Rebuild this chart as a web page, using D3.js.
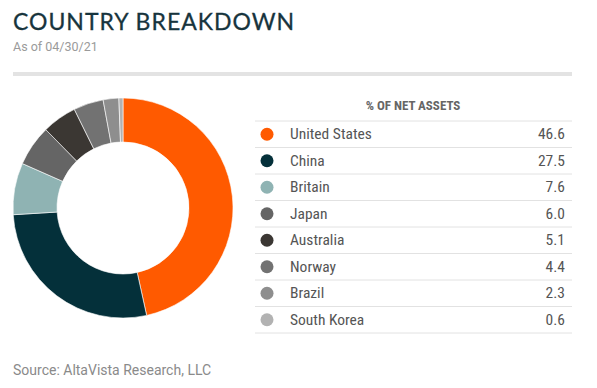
<!DOCTYPE html>
<html>
<head>
<meta charset="utf-8">
<script src="https://cdn.jsdelivr.net/npm/d3@7"></script>
<style>
  body { margin: 0; background: #fff; }
  svg { display: block; }
</style>
</head>
<body>
<svg width="597" height="388"></svg>
<script>
// data
const countries = ["United States", "China", "Britain", "Japan", "Australia", "Norway", "Brazil", "South Korea"];
const values = [46.6, 27.5, 7.6, 6.0, 5.1, 4.4, 2.3, 0.6];
const colors = ["#ff5a00", "#04303a", "#8fb3b3", "#656565", "#3b3733", "#727272", "#8e8e8e", "#b2b2b2"];

const svg = d3.select("svg");

// header
svg.append("text")
  .attr("x", 13).attr("y", 30)
  .attr("font-family", "Lato, 'Open Sans', sans-serif")
  .attr("font-size", 23)
  .attr("letter-spacing", 1.0)
  .attr("fill", "#17343d")
  .attr("stroke", "#17343d").attr("stroke-width", 0.3)
  .text("COUNTRY BREAKDOWN");

svg.append("text")
  .attr("x", 13).attr("y", 51)
  .attr("font-family", "Roboto, sans-serif")
  .attr("font-size", 12.5)
  .attr("fill", "#9a9a9a")
  .text("As of 04/30/21");

svg.append("rect")
  .attr("x", 13).attr("y", 72)
  .attr("width", 559).attr("height", 4)
  .attr("fill", "#e3e3e3");

// donut
const data = countries.map((c, i) => ({ name: c, value: values[i], color: colors[i] }));
const pie = d3.pie().sort(null).value(d => d.value);
const arc = d3.arc().innerRadius(66).outerRadius(110);

const g = svg.append("g").attr("transform", "translate(123,208)");
g.selectAll("path")
  .data(pie(data))
  .join("path")
  .attr("d", arc)
  .attr("fill", d => d.data.color)
  .attr("stroke", "#fff")
  .attr("stroke-width", 0.6);

// legend table
const tableX0 = 255, tableX1 = 572;
const rowH = 26.5;
const y = d3.scaleBand()
  .domain(countries)
  .range([121, 121 + rowH * countries.length])
  .padding(0);

const fontNarrow = "'Liberation Sans Narrow', 'Roboto Condensed', Roboto, sans-serif";

svg.append("text")
  .attr("x", 413).attr("y", 110)
  .attr("text-anchor", "middle")
  .attr("font-family", fontNarrow)
  .attr("font-weight", "bold")
  .attr("font-size", 13)
  .attr("fill", "#666")
  .text("% OF NET ASSETS");

svg.append("line")
  .attr("x1", tableX0).attr("x2", tableX1)
  .attr("y1", 121).attr("y2", 121)
  .attr("stroke", "#e2e2e2").attr("stroke-width", 1);

const rows = svg.append("g").selectAll("g")
  .data(data)
  .join("g")
  .attr("transform", d => `translate(0,${y(d.name)})`);

rows.append("circle")
  .attr("cx", 267).attr("cy", rowH / 2)
  .attr("r", 6.5)
  .attr("fill", d => d.color);

rows.append("text")
  .attr("x", 290).attr("y", rowH / 2 + 5)
  .attr("font-family", fontNarrow)
  .attr("font-size", 15.5)
  .attr("fill", "#555")
  .text(d => d.name);

rows.append("text")
  .attr("x", 565).attr("y", rowH / 2 + 5)
  .attr("text-anchor", "end")
  .attr("font-family", fontNarrow)
  .attr("font-size", 15.5)
  .attr("fill", "#555")
  .text(d => d.value.toFixed(1));

rows.append("line")
  .attr("x1", tableX0).attr("x2", tableX1)
  .attr("y1", rowH).attr("y2", rowH)
  .attr("stroke", "#e2e2e2").attr("stroke-width", 1);

// source
svg.append("text")
  .attr("x", 13).attr("y", 375)
  .attr("font-family", "Roboto, sans-serif")
  .attr("font-size", 14)
  .attr("fill", "#8a8a8a")
  .text("Source: AltaVista Research, LLC");
</script>
</body>
</html>
